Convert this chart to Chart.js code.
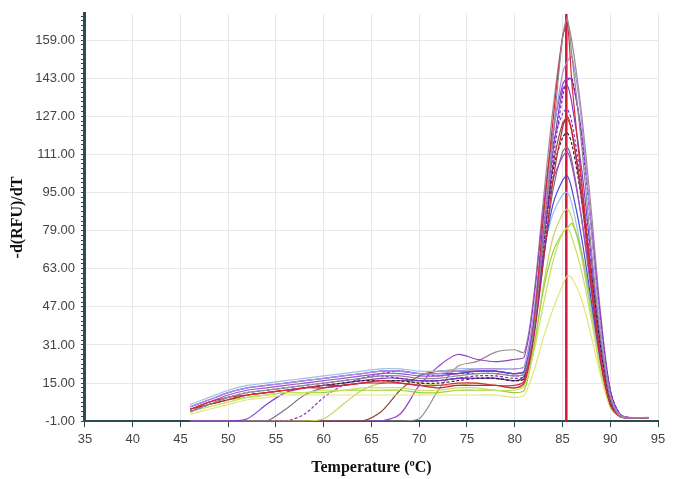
<!DOCTYPE html>
<html>
<head>
<meta charset="utf-8">
<script src="https://cdn.jsdelivr.net/npm/chart.js@4"></script>
<style>
  html, body { margin: 0; padding: 0; background: #fff; }
  #wrap { width: 678px; height: 479px; }
</style>
</head>
<body>
<div id="wrap"><canvas id="meltChart"></canvas></div>
<script>
// temperature points (°C)
var temps = [46, 48, 50, 52, 54, 56, 58, 60, 62, 64, 66, 68, 70, 72, 74, 76, 78, 80, 81, 82, 83, 84, 85, 85.5, 86, 87, 88, 89, 90, 91, 92, 94];

// -d(RFU)/dT for each well
var wellA = [3, 6, 9, 11, 12, 13, 14, 15, 16, 17, 18, 18, 17, 17, 18, 19, 19, 18, 19, 38, 75, 118, 160, 168, 152, 115, 72, 34, 9, 1, 0.5, 0.5];
var wellB = [4, 7, 9, 10, 11, 12, 13, 14, 14, 15, 16, 15, 14, 14, 15, 15, 14, 14, 16, 40, 85, 125, 160, 166, 140, 100, 60, 26, 6, 1, 0.5, 0.5];
var wellC = [5, 8, 11, 13, 14, 15, 16, 17, 18, 19, 20, 20, 19, 19, 20, 21, 21, 21, 22, 45, 82, 118, 145, 150, 152, 125, 80, 38, 10, 1.5, 0.5, 0.5];
var wellD = [3, 6, 9, 11, 12, 13, 14, 15, 16, 17, 18, 17, 16, 16, 17, 18, 18, 17, 18, 36, 70, 108, 135, 142, 143, 118, 80, 40, 12, 2, 0.5, 0.5];
var wellE = [4, 6, 8, 10, 11, 12, 13, 13, 14, 15, 15, 15, 14, 13, 14, 14, 14, 13, 15, 34, 66, 100, 122, 127, 120, 92, 56, 24, 6, 1, 0.5, 0.5];
var wellF = [3, 6, 8, 10, 11, 12, 13, 14, 15, 16, 16, 16, 15, 15, 16, 17, 17, 16, 17, 38, 72, 104, 118, 120, 115, 92, 62, 30, 8, 1, 0.5, 0.5];
var wellG = [5, 8, 11, 13, 14, 15, 16, 17, 18, 19, 20, 20, 19, 19, 19, 20, 20, 19, 20, 40, 68, 90, 100, 102, 96, 76, 50, 24, 7, 1, 0.5, 0.5];
var wellH = [4, 7, 10, 12, 13, 14, 15, 16, 17, 18, 19, 19, 18, 18, 19, 20, 20, 19, 20, 42, 76, 100, 110, 112, 106, 84, 56, 28, 8, 1.5, 0.5, 0.5];
var wellI = [3, 5, 7, 9, 10, 11, 11, 12, 12, 13, 13, 13, 12, 12, 13, 13, 12, 12, 14, 28, 48, 66, 78, 80, 76, 62, 42, 20, 5, 1, 0.5, 0.5];
var wellJ = [4, 6, 8, 9, 10, 11, 11, 11, 12, 12, 12, 12, 11, 11, 12, 12, 12, 11, 12, 30, 54, 70, 78, 80, 82, 70, 48, 24, 6, 1, 0.5, 0.5];
var wellK = [2, 4, 6, 8, 9, 10, 10, 10, 10, 10, 10, 10, 10, 10, 10, 10, 10, 9, 10, 20, 34, 46, 56, 60, 59, 50, 35, 18, 5, 1, 0.5, 0.5];
var wellL = [6, 9, 12, 14, 15, 16, 17, 18, 19, 20, 21, 21, 20, 20, 21, 21, 21, 21, 22, 44, 70, 86, 94, 95, 90, 70, 46, 22, 6, 1, 0.5, 0.5];
var wellM = [-1, -1, -1, 0, 6, 11, 13, 14, 15, 16, 17, 17, 16, 16, 17, 17, 17, 16, 18, 40, 78, 112, 138, 140, 132, 105, 68, 32, 9, 1.5, 0.5, 0.5];
var wellN = [-1, -1, -1, -1, -1, 4, 10, 13, 14, 15, 16, 16, 16, 16, 17, 17, 17, 16, 17, 36, 66, 96, 112, 114, 108, 84, 54, 26, 7, 1, 0.5, 0.5];
var wellO = [-1, -1, -1, -1, -1, -1, 2, 9, 14, 17, 19, 20, 19, 18, 19, 19, 19, 18, 19, 42, 80, 115, 128, 130, 124, 98, 64, 30, 8, 1.5, 0.5, 0.5];
var wellP = [-1, -1, -1, -1, -1, -1, -1, 0, 6, 12, 15, 16, 15, 14, 14, 15, 14, 13, 14, 30, 56, 76, 86, 88, 84, 68, 44, 20, 5, 1, 0.5, 0.5];
var wellQ = [-1, -1, -1, -1, -1, -1, -1, -1, -1, -1, 3, 12, 18, 20, 20, 20, 20, 19, 20, 40, 74, 106, 124, 126, 120, 95, 60, 28, 7, 1, 0.5, 0.5];
var wellR = [-1, -1, -1, -1, -1, -1, -1, -1, -1, -1, -1, 2, 14, 22, 27, 25, 24, 25, 26, 50, 88, 120, 140, 143, 142, 120, 82, 42, 12, 2, 0.5, 0.5];
var wellS = [-1, -1, -1, -1, -1, -1, -1, -1, -1, -1, -1, -1, 0, 12, 22, 24, 28, 29, 28, 52, 92, 130, 160, 166, 158, 128, 88, 44, 12, 2, 0.6, 0.6];

// melt peak marker
var markerTemp = 85.4;
var markerRange = [-1, 170];

var yTicksMajor = [-1, 15, 31, 47, 63, 79, 95, 111, 127, 143, 159];

var wells = [
    { data: wellA, color: '#8c8c8c', dash: [] },
    { data: wellB, color: '#d42a3c', dash: [] },
    { data: wellC, color: '#b08ee6', dash: [] },
    { data: wellD, color: '#7a22b8', dash: [3, 2] },
    { data: wellE, color: '#c8243a', dash: [] },
    { data: wellF, color: '#2a2030', dash: [3, 2] },
    { data: wellG, color: '#4a48d8', dash: [] },
    { data: wellH, color: '#9a50d8', dash: [] },
    { data: wellI, color: '#c8e060', dash: [] },
    { data: wellJ, color: '#9ccf3e', dash: [] },
    { data: wellK, color: '#e4e47a', dash: [] },
    { data: wellL, color: '#9cc0e4', dash: [] },
    { data: wellM, color: '#7f3cd0', dash: [] },
    { data: wellN, color: '#7e6e86', dash: [] },
    { data: wellO, color: '#8a34c8', dash: [3, 2] },
    { data: wellP, color: '#c4d45a', dash: [] },
    { data: wellQ, color: '#8a4a3a', dash: [] },
    { data: wellR, color: '#9640c8', dash: [] },
    { data: wellS, color: '#9a8a92', dash: [] }
];

var datasets = wells.map(function (w) {
    return {
        data: temps.map(function (t, i) { return { x: t, y: w.data[i] }; }),
        borderColor: w.color,
        borderWidth: 1.2,
        borderDash: w.dash,
        pointRadius: 0,
        tension: 0.3,
        fill: false
    };
});

datasets.push({
    data: [{ x: markerTemp, y: markerRange[0] }, { x: markerTemp, y: markerRange[1] }],
    borderColor: '#d01c34',
    borderWidth: 2.5,
    pointRadius: 0,
    fill: false
});

var ctx = document.getElementById('meltChart').getContext('2d');
new Chart(ctx, {
    type: 'line',
    data: { datasets: datasets },
    options: {
        responsive: true,
        maintainAspectRatio: false,
        animation: false,
        layout: { padding: { top: 12, right: 20, left: 4, bottom: 2 } },
        plugins: {
            legend: { display: false },
            tooltip: { enabled: false }
        },
        scales: {
            x: {
                type: 'linear',
                min: 35,
                max: 95,
                ticks: {
                    stepSize: 5,
                    color: '#444',
                    font: { family: 'Liberation Sans', size: 13 },
                    padding: 4
                },
                grid: {
                    color: '#e8e8e8',
                    tickColor: '#2d4b50',
                    tickLength: 6
                },
                border: { color: '#2d4b50', width: 2 },
                title: {
                    display: true,
                    text: 'Temperature (ºC)',
                    color: '#111',
                    font: { family: 'Liberation Serif', size: 16, weight: 'bold' },
                    padding: { top: 7, bottom: 0 }
                }
            },
            y: {
                type: 'linear',
                min: -1,
                max: 170,
                afterBuildTicks: function (scale) {
                    var t = [];
                    for (var v = -1; v <= 169; v += 2) t.push({ value: v });
                    scale.ticks = t;
                },
                ticks: {
                    autoSkip: false,
                    color: '#444',
                    font: { family: 'Liberation Sans', size: 13 },
                    padding: 6,
                    callback: function (v) {
                        return yTicksMajor.indexOf(v) >= 0 ? v.toFixed(2) : '';
                    }
                },
                grid: {
                    color: function (c) {
                        return c.tick && yTicksMajor.indexOf(c.tick.value) >= 0 ? '#e8e8e8' : 'rgba(0,0,0,0)';
                    },
                    tickColor: '#2d4b50',
                    tickLength: 4
                },
                border: { color: '#2d4b50', width: 3 },
                title: {
                    display: true,
                    text: '-d(RFU)/dT',
                    color: '#111',
                    font: { family: 'Liberation Serif', size: 16, weight: 'bold' },
                    padding: { bottom: 2 }
                }
            }
        }
    }
});
</script>
</body>
</html>
